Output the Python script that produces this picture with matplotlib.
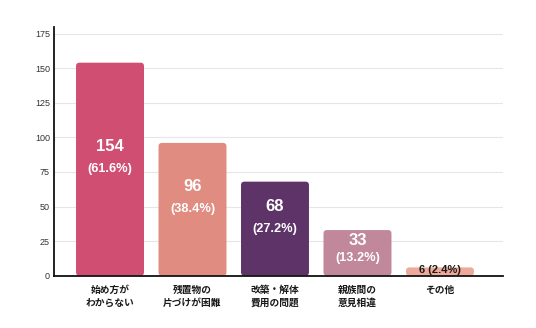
import matplotlib
matplotlib.use("Agg")
import matplotlib.pyplot as plt
from matplotlib.patches import FancyBboxPatch

categories = ["始め方が\nわからない", "残置物の\n片づけが困難", "改築・解体\n費用の問題", "親族間の\n意見相違", "その他"]
counts = [154, 96, 68, 33, 6]
percents = ["61.6%", "38.4%", "27.2%", "13.2%", "2.4%"]
colors = ["#D04E72", "#E08C80", "#5E3468", "#C0889A", "#EFA99B"]
yticks = [0, 25, 50, 75, 100, 125, 150, 175]

LATIN = ["Liberation Sans", "DejaVu Sans"]
CJK = ["Noto Sans CJK JP", "DejaVu Sans"]

fig = plt.figure(figsize=(5.36, 3.28), dpi=100)
ax = fig.add_axes([54/536, 1 - 275.7/328, (503-54)/536, (275.7-27)/328])

x = list(range(len(counts)))
bars = ax.bar(x, counts, width=0.824, color=colors, zorder=3)

ax.set_xlim(-0.679, 4.764)
ax.set_ylim(0, 179.8)

# rounded bars
xpp = (4.764 + 0.679) / (503 - 54)
ypp = 179.8 / (275.7 - 27)
for b, c in zip(bars, colors):
    b.set_visible(False)
    p = FancyBboxPatch((b.get_x(), b.get_y()), b.get_width(), b.get_height(),
                       boxstyle="round,pad=0,rounding_size=%f" % (3.5 * xpp),
                       mutation_aspect=ypp / xpp, facecolor=c, edgecolor="none",
                       zorder=3)
    ax.add_patch(p)

ax.set_yticks(yticks)
ax.set_yticklabels([str(t) for t in yticks], fontfamily=LATIN, fontsize=6.5, color="#333333")
ax.set_xticks(x)
ax.set_xticklabels(categories, fontfamily=CJK, fontsize=7, fontweight=700,
                   color="#1a1a1a", linespacing=1.4)
ax.tick_params(axis="both", length=0)
ax.tick_params(axis="y", pad=3)
ax.tick_params(axis="x", pad=6.5)

ax.grid(axis="y", color="#e6e6e6", linewidth=0.8, zorder=0)
ax.set_axisbelow(True)
for s in ["top", "right"]:
    ax.spines[s].set_visible(False)
for s in ["left", "bottom"]:
    ax.spines[s].set_color("#111111")
    ax.spines[s].set_linewidth(1.3)
    ax.spines[s].set_zorder(4)

pt = 72 / 100
lab = dict(ha="center", va="center", fontfamily=LATIN, fontweight="bold",
           textcoords="offset points", zorder=5)
for i, (v, pc) in enumerate(zip(counts, percents)):
    if v < 10:
        ax.annotate(f"{v} ({pc})", xy=(i, v), xytext=(0, -2.5 * pt),
                    fontsize=8, color="#1a1a1a", **lab)
    elif v < 50:
        ax.annotate(str(v), xy=(i, v), xytext=(0, -10 * pt),
                    fontsize=12, color="white", **lab)
        ax.annotate(f"({pc})", xy=(i, v), xytext=(0, -28 * pt),
                    fontsize=9.2, color="white", **lab)
    else:
        ax.annotate(str(v), xy=(i, v / 2), xytext=(0, 22.5 * pt),
                    fontsize=12, color="white", **lab)
        ax.annotate(f"({pc})", xy=(i, v / 2), xytext=(0, 0),
                    fontsize=9.2, color="white", **lab)

fig.savefig("out.png", dpi=100)
